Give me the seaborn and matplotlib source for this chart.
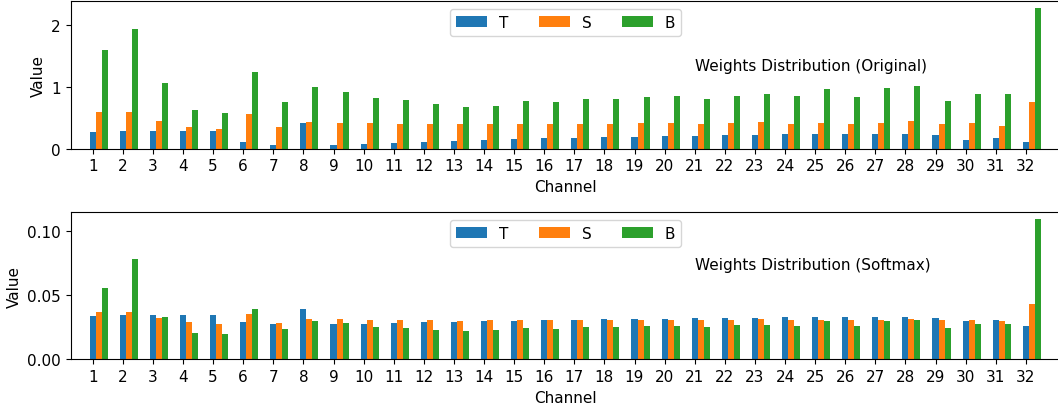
import numpy as np
import matplotlib
matplotlib.use("Agg")
import matplotlib.pyplot as plt
import seaborn as sns

channels = list(range(1, 33))
series_names = ["T", "S", "B"]
series_colors = ["#1f77b4", "#ff7f0e", "#2ca02c"]

# Raw channel weights
orig_T = [0.27, 0.286, 0.286, 0.286, 0.286, 0.108, 0.059, 0.416, 0.059, 0.076,
          0.092, 0.108, 0.124, 0.141, 0.157, 0.173, 0.173, 0.189, 0.189, 0.205,
          0.205, 0.222, 0.222, 0.238, 0.238, 0.238, 0.238, 0.238, 0.222, 0.141,
          0.173, 0.108]
orig_S = [0.595, 0.595, 0.449, 0.351, 0.319, 0.562, 0.351, 0.432, 0.416, 0.416,
          0.40, 0.40, 0.40, 0.40, 0.40, 0.40, 0.40, 0.40, 0.416, 0.416,
          0.40, 0.416, 0.432, 0.40, 0.416, 0.40, 0.416, 0.449, 0.40, 0.416,
          0.368, 0.757]
orig_B = [1.60, 1.94, 1.065, 0.627, 0.578, 1.243, 0.757, 1.0, 0.919, 0.822,
          0.789, 0.724, 0.676, 0.692, 0.773, 0.757, 0.805, 0.805, 0.838, 0.854,
          0.805, 0.854, 0.886, 0.854, 0.968, 0.838, 0.984, 1.016, 0.773, 0.886,
          0.886, 2.28]

# Softmax-normalised channel weights
soft_T = [0.0337, 0.0345, 0.0345, 0.0345, 0.0345, 0.029, 0.0275, 0.0391, 0.0275, 0.0275,
          0.0282, 0.029, 0.029, 0.0298, 0.0298, 0.0306, 0.0306, 0.0313, 0.0313, 0.0313,
          0.0321, 0.0321, 0.0321, 0.0329, 0.0329, 0.0329, 0.0329, 0.0329, 0.0321, 0.0298,
          0.0306, 0.0259]
soft_S = [0.0368, 0.0368, 0.0321, 0.029, 0.0275, 0.0352, 0.0282, 0.0313, 0.0313, 0.0306,
          0.0306, 0.0306, 0.0298, 0.0306, 0.0306, 0.0306, 0.0306, 0.0306, 0.0306, 0.0306,
          0.0306, 0.0306, 0.0313, 0.0306, 0.0306, 0.0306, 0.0306, 0.0313, 0.0306, 0.0306,
          0.0298, 0.043]
soft_B = [0.0554, 0.078, 0.0329, 0.0205, 0.0197, 0.0391, 0.0236, 0.0298, 0.0282, 0.0251,
          0.0244, 0.0228, 0.022, 0.0228, 0.0244, 0.0236, 0.0251, 0.0251, 0.0259, 0.0259,
          0.0251, 0.0267, 0.0267, 0.0259, 0.0298, 0.0259, 0.0298, 0.0306, 0.0244, 0.0275,
          0.0275, 0.109]

panel_titles = ["Weights Distribution (Original)", "Weights Distribution (Softmax)"]
panel_yticks = [[0, 1, 2], [0.0, 0.05, 0.10]]

plt.rcParams["font.family"] = ["DejaVu Sans"]
plt.rcParams["font.size"] = 11

W, H = 1058, 410
fig = plt.figure(figsize=(W / 100, H / 100), dpi=100)

left = 70.7 / W
width = (1061 - 70.7) / W
ax_top = fig.add_axes([left, 1 - 149.7 / H, width, 147.7 / H])
ax_bot = fig.add_axes([left, 1 - 360.3 / H, width, 147.0 / H])

bar_w = 0.2
x = np.array(channels, dtype=float)

panels = [
    (ax_top, [orig_T, orig_S, orig_B], panel_titles[0], panel_yticks[0], 0.56),
    (ax_bot, [soft_T, soft_S, soft_B], panel_titles[1], panel_yticks[1], 0.648),
]

for ax, values, title, yticks, ty in panels:
    for k, (vals, col) in enumerate(zip(values, series_colors)):
        sns.barplot(x=x + k * bar_w, y=vals, native_scale=True, width=bar_w,
                    color=col, saturation=1, errorbar=None, ax=ax)
    ymax = max(max(v) for v in values)
    ax.set_ylim(0, ymax * 1.05)
    ax.set_xlim(1 - 22 / 30.1, 1 + (1061 - 92.7) / 30.1)
    ax.set_xticks(channels)
    ax.set_xticklabels([str(c) for c in channels])
    ax.set_yticks(yticks)
    if yticks[-1] < 1:
        ax.set_yticklabels([f"{t:.2f}" for t in yticks])
    ax.set_xlabel("Channel")
    ax.set_ylabel("Value")
    ax.legend(ax.containers[:3], series_names, loc="upper center", ncol=3)
    ax.text((695 - 70.7) / (1061 - 70.7), ty, title, transform=ax.transAxes,
            ha="left", va="center")

fig.savefig("out.png", dpi=100)
